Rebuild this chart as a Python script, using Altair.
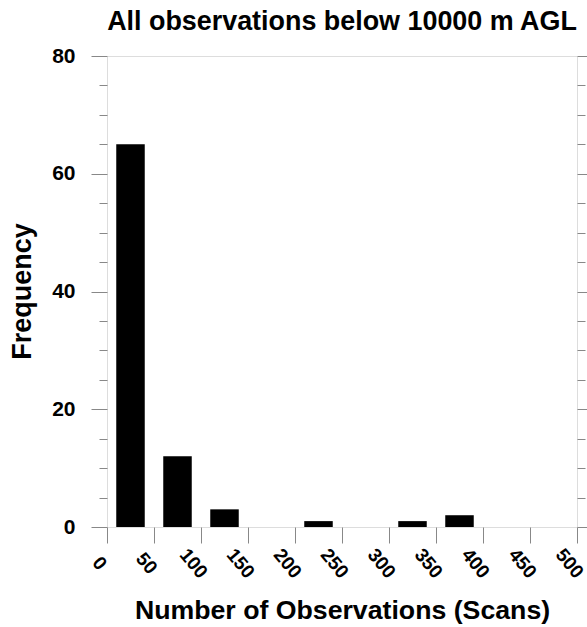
import altair as alt
import pandas as pd

bin_start = [0, 50, 100, 150, 200, 250, 300, 350, 400, 450]
counts = [65, 12, 3, 0, 1, 0, 1, 2, 0, 0]
bin_width = 50
x_ticks = [0, 50, 100, 150, 200, 250, 300, 350, 400, 450, 500]
y_major = [0, 20, 40, 60, 80]
y_minor = [v for v in range(0, 81, 5) if v % 20 != 0]

df = pd.DataFrame({"start": bin_start, "count": counts})

FONT = "Liberation Sans"
LINE = "#888888"

base = alt.Chart(df).transform_calculate(center=f"datum.start + {bin_width}/2")
yscale = alt.Scale(domain=[0, 80], nice=False, zero=True, padding=0)

bars = base.mark_bar(color="black", size=28.5).encode(
    x=alt.X(
        "center:Q",
        scale=alt.Scale(domain=[0, 500], nice=False, padding=0),
        axis=alt.Axis(
            orient="bottom", values=x_ticks, tickSize=16, tickColor=LINE, tickWidth=1,
            domain=False, grid=False, labelAngle=50, labelAlign="center",
            labelBaseline="middle", labelOffset=-8, labelPadding=20,
            labelFont=FONT, labelFontWeight="bold", labelFontSize=19, labelColor="black",
            title="Number of Observations (Scans)", titleFont=FONT, titleFontWeight="bold",
            titleFontSize=26.7, titleColor="black", titleX=235, titleY=91,
            titleBaseline="alphabetic", titleAlign="center",
        ),
    ),
    y=alt.Y(
        "count:Q",
        scale=yscale,
        axis=alt.Axis(
            orient="left", values=y_major, tickSize=16, tickColor=LINE, tickWidth=1,
            domain=False, grid=False, labelPadding=16, labelFont=FONT,
            labelFontWeight="bold", labelFontSize=21, labelColor="black",
            title="Frequency", titleFont=FONT, titleFontWeight="bold", titleFontSize=27,
            titleColor="black", titleX=-85, titleY=235, titleAngle=-90,
            titleAlign="center", titleBaseline="middle",
        ),
    ),
)


def tick_layer(orient, values, size):
    return base.mark_point(opacity=0).encode(
        y=alt.Y(
            "count:Q",
            scale=yscale,
            axis=alt.Axis(
                orient=orient, values=values, tickSize=size, tickColor=LINE, tickWidth=1,
                domain=False, grid=False, labels=False, title=None,
            ),
        )
    )


chart = (
    alt.layer(
        bars,
        tick_layer("left", y_minor, 8),
        tick_layer("right", y_major, 12),
        tick_layer("right", y_minor, 8),
    )
    .resolve_axis(y="independent")
    .properties(
        width=470,
        height=471,
        autosize=alt.AutoSizeParams(type="none"),
        padding={"left": 107, "top": 56, "right": 10, "bottom": 100},
        title=alt.TitleParams(
            "All observations below 10000 m AGL", font=FONT, fontWeight="bold",
            fontSize=26.9, color="black", anchor="middle", frame="group",
            baseline="alphabetic", offset=-12,
        ),
    )
    .configure_view(stroke=LINE, strokeWidth=1)
    .configure(background="white")
)

chart.save("out.html", embed_options={"renderer": "svg", "actions": False})
